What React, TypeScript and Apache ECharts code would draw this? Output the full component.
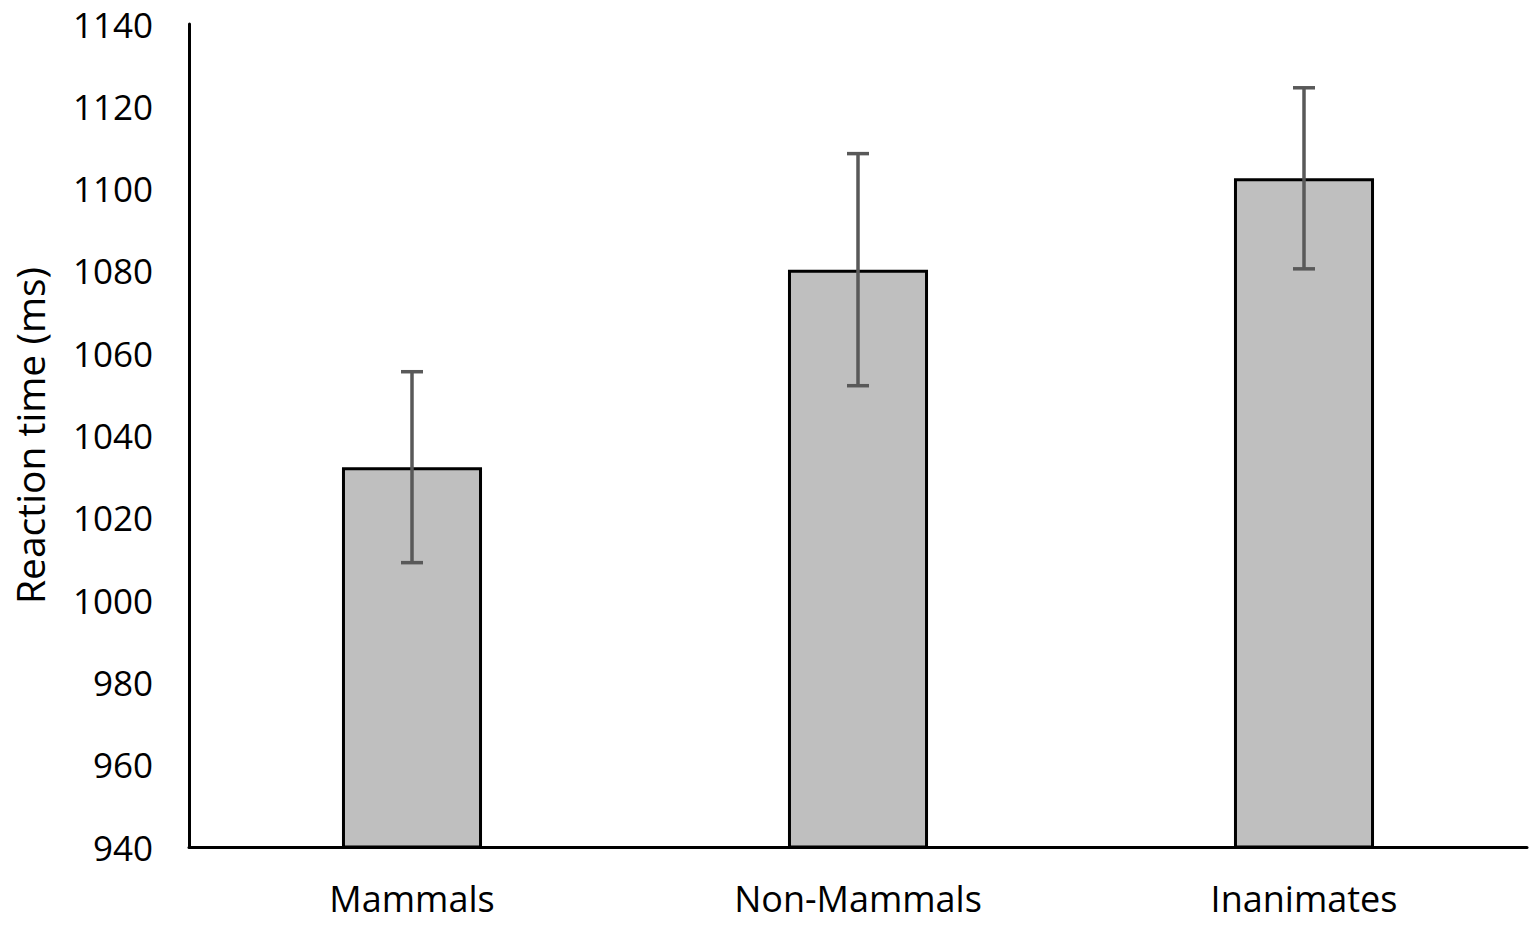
import React, { useEffect, useRef } from "react";
import * as echarts from "echarts";

const categories = ["Mammals", "Non-Mammals", "Inanimates"];
const meanRT = [1032.3, 1080.3, 1102.5];
const errorSize = [23.2, 28.2, 22.0];
const yTicks = { min: 940, max: 1140, interval: 20 };
const yTitle = "Reaction time (ms)";

const FONT = "'Open Sans', 'Noto Sans', sans-serif";

export default function App() {
  const ref = useRef<HTMLDivElement>(null);
  useEffect(() => {
    if (!ref.current) return;
    const chart = echarts.init(ref.current, null, { renderer: "svg" });
    const errData = categories.map((c, i) => [i, meanRT[i] - errorSize[i], meanRT[i] + errorSize[i]]);
    chart.setOption({
      animation: false,
      backgroundColor: "#ffffff",
      grid: { left: 189, right: 8, top: 24, bottom: 78, containLabel: false },
      xAxis: {
        type: "category",
        data: categories,
        axisLine: { show: true, lineStyle: { color: "#000", width: 3 } },
        axisTick: { show: false },
        axisLabel: { color: "#000", fontSize: 36, fontFamily: FONT, margin: 33 },
      },
      yAxis: {
        type: "value",
        min: yTicks.min,
        max: yTicks.max,
        interval: yTicks.interval,
        name: yTitle,
        nameLocation: "middle",
        nameGap: 140,
        nameTextStyle: { color: "#000", fontSize: 39, fontFamily: FONT },
        axisLine: { show: true, lineStyle: { color: "#000", width: 3 } },
        axisTick: { show: false },
        splitLine: { show: false },
        axisLabel: {
          color: "#000",
          fontSize: 35,
          fontFamily: FONT,
          margin: 36,
          lineHeight: 30,
          formatter: (v: number) => String(v),
        },
      },
      series: [
        {
          type: "bar",
          data: meanRT,
          barWidth: "31.4%",
          itemStyle: { color: "#bfbfbf", borderColor: "#000", borderWidth: 3 },
          z: 2,
        },
        {
          type: "custom",
          data: errData,
          z: 3,
          renderItem: (params: any, api: any) => {
            const x = api.value(0);
            const lo = api.coord([x, api.value(1)]);
            const hi = api.coord([x, api.value(2)]);
            const half = 11;
            const style = { stroke: "#595959", lineWidth: 3.5 };
            return {
              type: "group",
              children: [
                { type: "line", shape: { x1: hi[0], y1: hi[1], x2: lo[0], y2: lo[1] }, style },
                { type: "line", shape: { x1: hi[0] - half, y1: hi[1], x2: hi[0] + half, y2: hi[1] }, style },
                { type: "line", shape: { x1: lo[0] - half, y1: lo[1], x2: lo[0] + half, y2: lo[1] }, style },
              ],
            };
          },
        },
      ],
    });
    return () => chart.dispose();
  }, []);
  return (
    <div
      ref={ref}
      style={{ position: "absolute", left: 0, top: 0, width: 1535, height: 925, background: "#fff" }}
    />
  );
}
